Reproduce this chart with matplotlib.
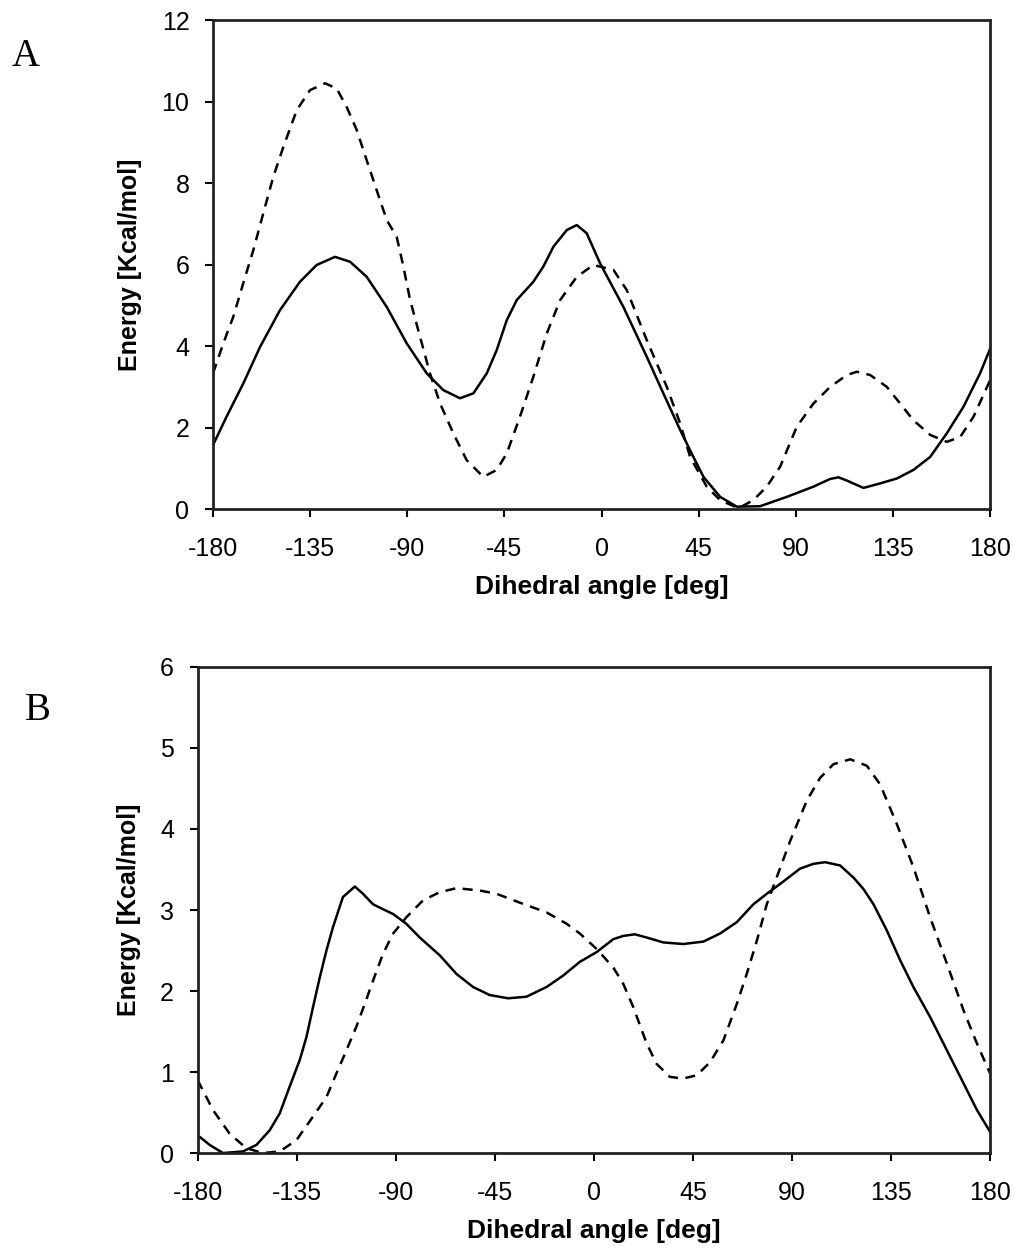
import matplotlib
matplotlib.use('Agg')
import matplotlib.pyplot as plt

# --- Panel A ---
a_solid_x = [-180, -173.7, -166, -158.2, -149, -139.7, -132, -123.5, -116.5, -108.8, -99.5,
             -90.3, -81, -73.3, -65.6, -59.4, -53.2, -48.6, -43.9, -39.3, -31.6, -27, -22.3,
             -16.1, -11.5, -6.9, -0.7, 10.1, 20.9, 28.6, 36.4, 42.5, 47.2, 54.9, 62.6, 73.4,
             85.8, 98.1, 105.9, 109.7, 113.6, 121.3, 129, 136.7, 144.4, 152.2, 159.9, 167.6,
             175.3, 180]
a_solid_y = [1.57, 2.27, 3.08, 3.98, 4.88, 5.58, 5.99, 6.19, 6.07, 5.70, 4.96, 4.07, 3.33, 2.92,
             2.72, 2.84, 3.33, 3.90, 4.64, 5.13, 5.58, 5.95, 6.44, 6.85, 6.97, 6.77, 6.03, 4.96,
             3.74, 2.84, 1.94, 1.28, 0.79, 0.30, 0.06, 0.07, 0.30, 0.55, 0.74, 0.78, 0.70, 0.52,
             0.63, 0.75, 0.96, 1.28, 1.86, 2.51, 3.33, 3.94]

a_dash_x = [-180, -175.2, -170.6, -166, -161.3, -156.7, -152.1, -147.4, -141.2, -135.1, -128.1,
            -122.7, -118.1, -113.4, -108.8, -104.2, -99.5, -94.9, -91.8, -88.7, -84.1, -79.5,
            -74.8, -68.7, -62.5, -54.8, -48.6, -43.9, -37.8, -31.6, -25.4, -19.2, -11.5, -3.8,
            5.5, 11.7, 20.9, 30.2, 36.4, 41.0, 48.7, 54.9, 63.4, 70.3, 76.5, 82.7, 90.4, 98.1,
            105.9, 113.6, 118.2, 124.4, 132.1, 138.3, 144.4, 152.2, 159.9, 166.1, 172.3, 180]
a_dash_y = [3.33, 4.07, 4.72, 5.54, 6.36, 7.26, 8.15, 8.89, 9.79, 10.28, 10.45, 10.32, 9.87,
            9.30, 8.56, 7.83, 7.09, 6.68, 5.95, 5.13, 4.23, 3.33, 2.59, 1.86, 1.20, 0.79, 0.96,
            1.37, 2.27, 3.25, 4.31, 5.13, 5.70, 5.99, 5.87, 5.37, 4.15, 3.0, 2.10, 1.28, 0.55,
            0.22, 0.02, 0.22, 0.55, 1.04, 2.02, 2.59, 3.0, 3.29, 3.37, 3.29, 3.0, 2.59, 2.18,
            1.82, 1.65, 1.77, 2.27, 3.17]

# --- Panel B ---
b_solid_x = [-180, -174.5, -168.5, -159.4, -153.3, -147.3, -142.7, -138.2, -133.6, -130.6,
             -127.6, -124.5, -121.5, -118.5, -114, -108.6, -104.9, -100.3, -95.8, -91.2, -85.2,
             -79.1, -70, -62.4, -54.9, -47.3, -38.9, -30.6, -21.5, -14, -6.4, 1.2, 8.8, 13.3,
             18.6, 24, 31.5, 40.6, 49.7, 57.3, 64.9, 72.4, 78.5, 84.5, 93.6, 99.7, 105, 111.8,
             117.9, 122.4, 127, 133, 139.1, 145.1, 152.7, 160.3, 167.9, 174, 180]
b_solid_y = [0.22, 0.10, 0.0, 0.02, 0.10, 0.28, 0.49, 0.82, 1.15, 1.43, 1.80, 2.17, 2.50, 2.79,
             3.16, 3.29, 3.20, 3.07, 3.01, 2.95, 2.83, 2.66, 2.44, 2.21, 2.05, 1.95, 1.91, 1.93,
             2.05, 2.19, 2.36, 2.48, 2.64, 2.68, 2.70, 2.66, 2.60, 2.58, 2.61, 2.71, 2.85, 3.07,
             3.20, 3.32, 3.51, 3.57, 3.59, 3.55, 3.40, 3.26, 3.07, 2.75, 2.38, 2.05, 1.68, 1.27,
             0.86, 0.53, 0.26]

b_dash_x = [-180, -173, -165.5, -157.9, -150.3, -142.7, -135.1, -127.6, -121.5, -117, -112.4,
            -107.9, -104.1, -100.3, -95.8, -91.2, -85.2, -77.6, -70, -62.4, -51.8, -44.2,
            -33.6, -21.5, -12.4, -6.4, 1.2, 8.8, 13.3, 17.9, 24, 28.5, 34.5, 40.6, 46.7, 52.7,
            58.8, 64.9, 69.4, 74, 78.5, 83, 89.1, 96.7, 102.7, 108.8, 116.4, 124, 130, 137.6,
            145.1, 152.7, 160.3, 167.9, 174, 180]
b_dash_y = [0.90, 0.53, 0.24, 0.06, 0.0, 0.02, 0.16, 0.45, 0.69, 0.98, 1.27, 1.56, 1.84, 2.13,
            2.46, 2.71, 2.91, 3.12, 3.22, 3.27, 3.24, 3.20, 3.09, 2.97, 2.83, 2.71, 2.52, 2.29,
            2.09, 1.80, 1.35, 1.10, 0.94, 0.92, 0.96, 1.12, 1.39, 1.84, 2.21, 2.62, 3.07, 3.40,
            3.85, 4.35, 4.63, 4.80, 4.86, 4.78, 4.55, 4.06, 3.53, 2.91, 2.34, 1.76, 1.35, 0.98]

x_ticks = [-180, -135, -90, -45, 0, 45, 90, 135, 180]

plt.rcParams['font.family'] = ['Liberation Sans', 'DejaVu Sans']
plt.rcParams['axes.unicode_minus'] = False

fig = plt.figure(figsize=(10.24, 12.57), dpi=100)
ax_a = fig.add_axes([0.208, 0.595, 0.759, 0.389])
ax_b = fig.add_axes([0.193, 0.0827, 0.774, 0.3867])

dash = (0, (4, 3))
panels = [
    (ax_a, a_solid_x, a_solid_y, a_dash_x, a_dash_y, 12, range(0, 13, 2)),
    (ax_b, b_solid_x, b_solid_y, b_dash_x, b_dash_y, 6, range(0, 7)),
]

for ax, sx, sy, dx, dy, ymax, yt in panels:
    ax.plot(sx, sy, color='black', lw=1.8, solid_joinstyle='round')
    ax.plot(dx, dy, color='black', lw=1.8, linestyle=dash)
    ax.set_xlim(-180, 180)
    ax.set_ylim(0, ymax)
    ax.set_xticks(x_ticks)
    ax.set_yticks(list(yt))
    ax.tick_params(direction='out', length=6, width=1.5, labelsize=18, colors='black')
    ax.tick_params(axis='x', pad=14)
    ax.tick_params(axis='y', pad=11)
    for s in ax.spines.values():
        s.set_linewidth(2.0)
        s.set_color('#222222')
    ax.set_xlabel('Dihedral angle [deg]', fontsize=19, fontweight='bold', labelpad=10)
    ax.set_ylabel('Energy [Kcal/mol]', fontsize=18, fontweight='bold', labelpad=14)

fig.text(0.025, 0.9547, 'A', fontsize=28, family='Liberation Serif', ha='center', va='center')
fig.text(0.037, 0.4344, 'B', fontsize=28, family='Liberation Serif', ha='center', va='center')

fig.savefig('out.png', dpi=100)
